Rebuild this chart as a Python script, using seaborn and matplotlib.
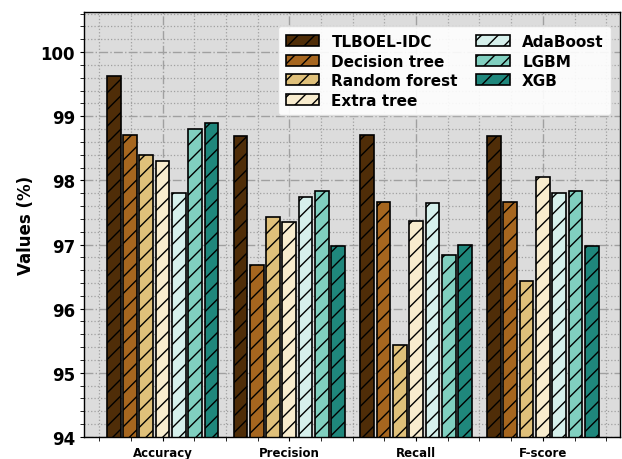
import pandas as pd
import matplotlib
matplotlib.use('Agg')
import matplotlib.pyplot as plt
from matplotlib.ticker import MultipleLocator
import seaborn as sns

# Metrics and models
metrics = ['Accuracy', 'Precision', 'Recall', 'F-score']
models = ['TLBOEL-IDC', 'Decision tree', 'Random forest', 'Extra tree',
          'AdaBoost', 'LGBM', 'XGB']

# values (%) per model, in metric order
tlboel = [99.63, 98.69, 98.71, 98.69]
decision_tree = [98.70, 96.68, 97.66, 97.67]
random_forest = [98.40, 97.43, 95.44, 96.43]
extra_tree = [98.30, 97.35, 97.36, 98.05]
adaboost = [97.80, 97.74, 97.65, 97.80]
lgbm = [98.80, 97.84, 96.84, 97.84]
xgb = [98.90, 96.97, 96.99, 96.97]

colors = ['#4f2d08', '#a6661f', '#dfc07a', '#f8ecce', '#d6f0ec', '#80cfbf', '#1f877c']

rows = []
for name, vals in zip(models, [tlboel, decision_tree, random_forest, extra_tree,
                                adaboost, lgbm, xgb]):
    for m, v in zip(metrics, vals):
        rows.append({'Metric': m, 'Model': name, 'Value': v})
df = pd.DataFrame(rows)

sns.set_style('white')
plt.rcParams['font.family'] = ['DejaVu Sans']
plt.rcParams['hatch.linewidth'] = 1.0
plt.rcParams['text.color'] = 'black'
plt.rcParams['axes.labelcolor'] = 'black'
plt.rcParams['xtick.color'] = 'black'
plt.rcParams['ytick.color'] = 'black'

fig = plt.figure(figsize=(6.22, 4.6), dpi=100)
ax = fig.add_axes([0.135, 0.048, 0.862, 0.923])
ax.set_facecolor('#dcdcdc')

sns.barplot(data=df, x='Metric', y='Value', hue='Model', palette=colors,
            saturation=1, width=0.9, edgecolor='black', linewidth=1.2,
            legend=False, ax=ax)

# narrow each bar a little so there is a gap between neighbours
for cont in ax.containers:
    for p in cont.patches:
        w = p.get_width()
        p.set_x(p.get_x() + w * 0.08)
        p.set_width(w * 0.84)
        p.set_hatch('//')

ax.set_ylim(94, 100.62)
ax.set_xlim(-0.62, 3.61)
ax.yaxis.set_major_locator(MultipleLocator(1))
ax.yaxis.set_minor_locator(MultipleLocator(0.2))
ax.xaxis.set_minor_locator(MultipleLocator(0.25))
ax.grid(which='major', color='#a0a0a0', linestyle='-.', linewidth=1.0)
ax.grid(which='minor', color='#a0a0a0', linestyle=':', linewidth=0.9)
ax.set_axisbelow(True)
ax.tick_params(axis='both', which='both', direction='out', length=3,
               bottom=True, left=True)

ax.set_xlabel('')
ax.set_ylabel('Values (%)', fontsize=12, fontweight='bold')
for t in ax.get_yticklabels():
    t.set_fontsize(12)
    t.set_fontweight('bold')
for t in ax.get_xticklabels():
    t.set_fontsize(8.5)
    t.set_fontweight('bold')

for s in ax.spines.values():
    s.set_color('black')
    s.set_linewidth(1.0)

handles = [c.patches[0] for c in ax.containers]
ax.legend(handles, models, ncol=2, loc='upper right',
          prop={'weight': 'bold', 'size': 11}, frameon=True, framealpha=0.9,
          facecolor='white', edgecolor='#dddddd', handlelength=2.2,
          columnspacing=1.2, labelspacing=0.3, borderpad=0.5,
          bbox_to_anchor=(0.998, 0.985))

fig.savefig('out.png', dpi=100)
